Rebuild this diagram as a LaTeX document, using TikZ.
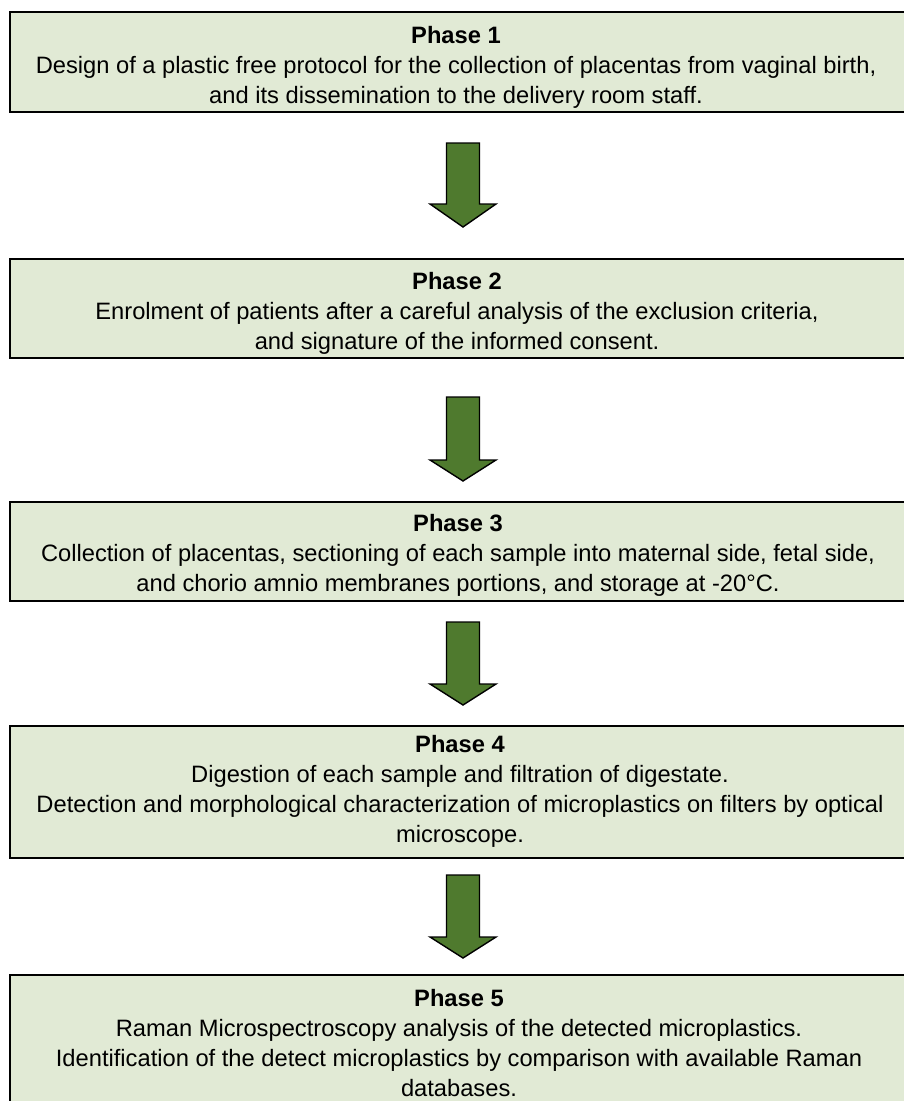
\documentclass[tikz,border=0pt]{standalone}
\usepackage{fontspec}
\setmainfont{Liberation Sans}
\usepackage{tikz}
\usetikzlibrary{positioning}
\definecolor{phasefill}{HTML}{E1EAD5}
\definecolor{mgreen}{HTML}{4F7A2E}
\tikzset{phase/.style = {draw, line width = 2, fill = phasefill, rectangle,
                         minimum width = 895}}
\tikzset{phasetext/.style = {align = center, inner sep = 0,
                             font = \fontsize{23.7}{30}\selectfont}}
\tikzset{blockarrow/.style = {draw, line width = 1.4, fill = mgreen, line join = miter}}

\begin{document}
\begin{tikzpicture}[x = 1pt, y = -1pt]
      \useasboundingbox (0, 0) rectangle (903, 1101);

      \node [phase, minimum height = 100] (ph1) at (457, 62) {};
      \node [phase, minimum height = 99] (ph2) at (457, 308.5) {};
      \node [phase, minimum height = 99] (ph3) at (457, 551.5) {};
      \node [phase, minimum height = 132] (ph4) at (457, 792) {};
      \node [phase, minimum height = 134] (ph5) at (457, 1042) {};

      \node [phasetext] (tx1) at (456, 67)
            {\textbf{Phase 1}\\Design of a plastic free protocol for the collection of placentas from vaginal birth,\\and its dissemination to the delivery room staff.};
      \node [phasetext] (tx2) at (457, 313)
            {\textbf{Phase 2}\\Enrolment of patients after a careful analysis of the exclusion criteria,\\and signature of the informed consent.};
      \node [phasetext] (tx3) at (458, 555)
            {\textbf{Phase 3}\\Collection of placentas, sectioning of each sample into maternal side, fetal side,\\and chorio amnio membranes portions, and storage at -20°C.};
      \node [phasetext] (tx4) at (460, 791)
            {\textbf{Phase 4}\\Digestion of each sample and filtration of digestate.\\Detection and morphological characterization of microplastics on filters by optical\\microscope.};
      \node [phasetext] (tx5) at (459, 1043)
            {\textbf{Phase 5}\\Raman Microspectroscopy analysis of the detected microplastics.\\Identification of the detect microplastics by comparison with available Raman\\databases.};

      % block arrows between the phases
      \foreach \top/\base/\tip in {143/204/227, 397/460/481, 622/684/705, 875/937/958}
        \draw [blockarrow] (446.5, \top) -- (479.5, \top) -- (479.5, \base) -- (496, \base)
              -- (463, \tip) -- (430, \base) -- (446.5, \base) -- cycle;
\end{tikzpicture}
\end{document}
